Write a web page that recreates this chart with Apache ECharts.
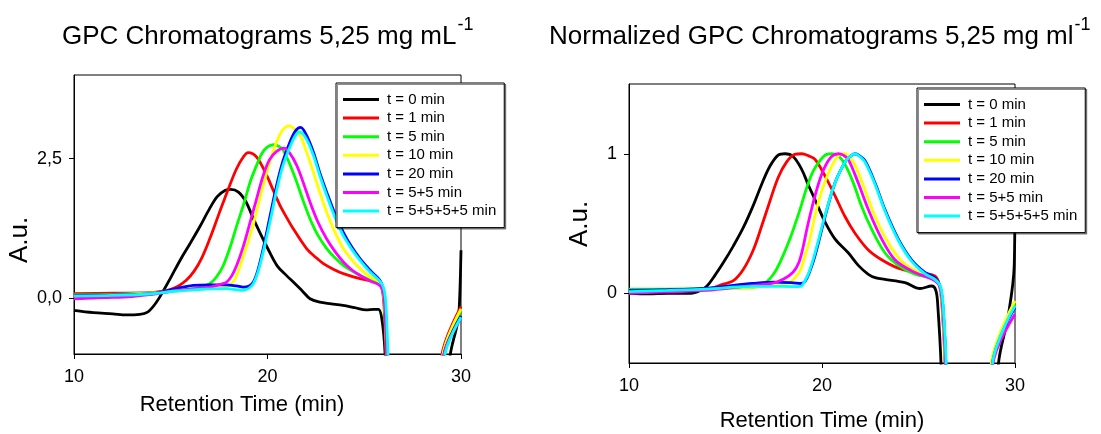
<!DOCTYPE html>
<html><head><meta charset="utf-8">
<script src="https://cdn.jsdelivr.net/npm/echarts@6/dist/echarts.min.js"></script>
<style>html,body{margin:0;padding:0;background:#fff}#c{width:1101px;height:434px}</style>
</head><body><div id="c"></div>
<script>
const seriesNames = ['t = 0 min','t = 1 min','t = 5 min','t = 10 min','t = 20 min','t = 5+5 min','t = 5+5+5+5 min'];
const seriesColors = ['#000000','#ff0000','#00ff00','#ffff00','#0000ff','#ff00ff','#00ffff'];
const xTickValues = [10, 20, 30];
const rawTickValues = [0, 2.5];
const normTickValues = [0, 1];
const titleLeft = 'GPC Chromatograms 5,25 mg mL';
const titleRight = 'Normalized GPC Chromatograms 5,25 mg ml';
const titleSup = '-1';
const xName = 'Retention Time (min)';
const yName = 'A.u.';

// Left panel: raw chromatograms [time, signal]
const raw0 = [[10,-0.22],[11,-0.26],[12,-0.28],[12.7,-0.30],[13.4,-0.29],[13.8,-0.25],[14.2,-0.1],[14.6,0.12],[15.0,0.37],[15.5,0.69],[16.0,0.98],[16.5,1.28],[17.0,1.60],[17.4,1.82],[17.8,1.93],[18.1,1.95],[18.5,1.90],[18.9,1.72],[19.2,1.48],[19.6,1.18],[20.0,0.90],[20.5,0.58],[21.0,0.40],[21.4,0.27],[21.8,0.13],[22.2,-0.01],[22.7,-0.07],[23.3,-0.10],[23.9,-0.13],[24.5,-0.17],[25.1,-0.21],[25.5,-0.20],[25.73,-0.20],[25.9,-0.35],[26.07,-0.95],[26.15,-2],[29.3,-2],[29.43,-1.05],[29.81,-0.46],[29.91,-0.16],[30,0.86]];
const raw1 = [[10,0.08],[12,0.09],[14,0.10],[14.5,0.12],[15.0,0.16],[15.4,0.22],[15.8,0.32],[16.2,0.48],[16.6,0.72],[17.0,1.05],[17.5,1.52],[18.0,1.98],[18.4,2.32],[18.75,2.53],[19.0,2.61],[19.44,2.53],[19.96,2.2],[20.3,1.93],[20.65,1.66],[21.0,1.44],[21.34,1.24],[22.02,0.89],[22.5,0.73],[22.89,0.62],[23.4,0.52],[23.92,0.44],[24.78,0.35],[25.4,0.31],[25.75,0.29],[25.92,0.16],[26.02,-0.12],[26.12,-1.05],[26.2,-2],[28.9,-2],[29.0,-1.05],[30,-0.15]];
const raw2 = [[10,0.06],[12,0.07],[14,0.09],[15,0.12],[16.2,0.17],[17.0,0.26],[17.4,0.40],[17.72,0.59],[18.1,0.95],[18.41,1.30],[18.8,1.72],[19.1,2.08],[19.4,2.35],[19.7,2.59],[20.0,2.71],[20.3,2.75],[20.6,2.72],[20.82,2.65],[21.2,2.36],[21.51,2.08],[21.85,1.74],[22.2,1.42],[22.6,1.13],[23.06,0.89],[23.5,0.72],[23.92,0.59],[24.4,0.48],[24.78,0.41],[25.3,0.33],[25.78,0.28],[25.95,0.15],[26.05,-0.15],[26.15,-1.05],[26.25,-2],[28.95,-2],[29.05,-1.05],[30,-0.22]];
const raw3 = [[10,0.04],[12,0.06],[14,0.09],[15,0.12],[17.0,0.17],[17.89,0.20],[18.2,0.28],[18.41,0.41],[18.75,0.75],[19.1,1.12],[19.45,1.57],[19.78,2.02],[20.1,2.42],[20.47,2.80],[20.8,3.02],[21.13,3.09],[21.4,3.03],[21.68,2.92],[22.0,2.64],[22.37,2.26],[22.7,1.90],[23.06,1.54],[23.5,1.17],[23.92,0.89],[24.35,0.69],[24.78,0.53],[25.3,0.38],[25.8,0.29],[25.97,0.15],[26.07,-0.15],[26.17,-1.05],[26.27,-2],[28.95,-2],[29.05,-1.05],[30,-0.19]];
const raw4 = [[10,0.05],[12,0.06],[14,0.08],[15,0.15],[16.17,0.23],[17.0,0.24],[17.89,0.24],[18.4,0.22],[18.75,0.20],[19.05,0.22],[19.27,0.29],[19.5,0.50],[19.78,0.89],[20.1,1.42],[20.47,2.02],[20.8,2.46],[21.16,2.80],[21.45,3.0],[21.71,3.06],[22.0,2.93],[22.37,2.62],[22.7,2.25],[23.06,1.90],[23.5,1.50],[23.92,1.18],[24.35,0.92],[24.78,0.71],[25.3,0.50],[25.81,0.32],[25.98,0.17],[26.08,-0.15],[26.18,-1.05],[26.28,-2],[29.0,-2],[29.1,-1.05],[30,-0.32]];
const raw5 = [[10,-0.01],[11.5,0.01],[13.0,0.03],[14.5,0.09],[15.3,0.14],[17.03,0.20],[17.6,0.25],[17.89,0.29],[18.15,0.40],[18.41,0.59],[18.75,0.93],[19.1,1.36],[19.45,1.80],[19.78,2.20],[20.1,2.48],[20.47,2.63],[20.85,2.69],[21.15,2.60],[21.51,2.38],[21.85,2.07],[22.2,1.72],[22.6,1.37],[23.06,1.06],[23.5,0.83],[23.92,0.65],[24.35,0.51],[24.78,0.41],[25.3,0.31],[25.8,0.23],[25.98,0.12],[26.08,-0.15],[26.18,-1.05],[26.28,-2],[29.0,-2],[29.1,-1.05],[30,-0.36]];
const raw6 = [[10,0.04],[12,0.05],[14,0.08],[15,0.12],[16.17,0.15],[17.89,0.17],[18.4,0.15],[18.75,0.14],[19.05,0.18],[19.27,0.26],[19.5,0.46],[19.78,0.83],[20.1,1.32],[20.47,1.93],[20.8,2.38],[21.16,2.71],[21.45,2.92],[21.65,2.98],[22.0,2.86],[22.37,2.56],[22.7,2.20],[23.06,1.84],[23.5,1.44],[23.92,1.12],[24.35,0.88],[24.78,0.68],[25.3,0.47],[25.85,0.29],[26.03,0.15],[26.13,-0.15],[26.23,-1.05],[26.33,-2],[29.05,-2],[29.15,-1.05],[30,-0.34]];

// Right panel: normalized chromatograms [time, signal]
const norm0 = [[10,0.0],[11,-0.005],[12,0.0],[13.2,0.0],[13.7,0.02],[14.03,0.05],[14.46,0.13],[14.89,0.22],[15.41,0.34],[15.92,0.47],[16.44,0.63],[16.87,0.78],[17.3,0.91],[17.73,0.99],[18.08,1.0],[18.5,0.98],[18.94,0.89],[19.28,0.78],[19.64,0.67],[20.16,0.51],[20.67,0.39],[21.36,0.29],[21.88,0.2],[22.4,0.136],[22.8,0.11],[23.26,0.1],[24.3,0.076],[25.08,0.034],[25.68,0.052],[25.9,0.02],[26.0,-0.09],[26.17,-0.52],[26.27,-1.2],[29.0,-1.2],[29.13,-0.52],[29.65,-0.16],[29.96,0.2],[30,0.8]];
const norm1 = [[10,0.02],[12,0.025],[14,0.03],[14.89,0.065],[15.41,0.09],[15.92,0.17],[16.44,0.31],[16.87,0.48],[17.3,0.66],[17.73,0.83],[18.16,0.94],[18.59,0.995],[18.95,1.0],[19.3,0.985],[19.64,0.96],[20.16,0.84],[20.67,0.70],[21.19,0.55],[21.71,0.43],[22.4,0.31],[23.09,0.24],[23.95,0.18],[24.82,0.15],[25.85,0.124],[26.08,0.06],[26.22,-0.09],[26.38,-0.52],[26.48,-1.2],[28.68,-1.2],[28.78,-0.52],[30,-0.08]];
const norm2 = [[10,0.03],[12,0.03],[14,0.035],[16.4,0.04],[17.1,0.08],[17.5,0.14],[17.82,0.22],[18.34,0.39],[18.86,0.60],[19.12,0.72],[19.4,0.83],[19.64,0.90],[20.16,0.99],[20.5,1.0],[21.02,0.96],[21.54,0.82],[22.06,0.62],[22.57,0.46],[23.26,0.29],[23.95,0.2],[24.82,0.136],[25.85,0.1],[26.1,0.05],[26.24,-0.09],[26.4,-0.52],[26.5,-1.2],[28.7,-1.2],[28.8,-0.52],[30,-0.08]];
const norm3 = [[10,0.01],[12,0.02],[14,0.03],[16,0.04],[17.8,0.06],[18.34,0.08],[18.86,0.16],[19.12,0.27],[19.36,0.38],[19.64,0.56],[20.0,0.74],[20.33,0.86],[20.65,0.95],[20.93,0.995],[21.19,1.0],[21.45,0.97],[21.71,0.92],[22.23,0.74],[22.75,0.55],[23.44,0.36],[24.13,0.23],[24.99,0.15],[25.85,0.105],[26.1,0.05],[26.24,-0.09],[26.4,-0.52],[26.5,-1.2],[28.66,-1.2],[28.76,-0.52],[30,-0.055]];
const norm4 = [[10,0.02],[12,0.025],[14,0.035],[15,0.05],[16.4,0.07],[17.5,0.08],[18.5,0.075],[18.9,0.07],[19.12,0.085],[19.35,0.15],[19.64,0.27],[20.16,0.55],[20.67,0.79],[21.19,0.94],[21.45,0.98],[21.71,1.0],[21.95,0.985],[22.23,0.95],[22.75,0.79],[23.26,0.60],[23.95,0.39],[24.64,0.24],[25.33,0.15],[25.85,0.11],[26.12,0.05],[26.26,-0.09],[26.42,-0.52],[26.52,-1.2],[28.72,-1.2],[28.82,-0.52],[30,-0.1]];
const norm5 = [[10,0.0],[12,0.01],[14,0.02],[16,0.05],[17.4,0.07],[17.99,0.10],[18.5,0.15],[18.8,0.22],[19.02,0.33],[19.2,0.45],[19.4,0.57],[19.64,0.70],[19.9,0.82],[20.16,0.91],[20.5,0.98],[20.85,1.0],[21.1,0.99],[21.36,0.96],[21.88,0.79],[22.4,0.60],[23.09,0.39],[23.78,0.24],[24.65,0.16],[25.85,0.09],[26.12,0.04],[26.26,-0.09],[26.42,-0.52],[26.52,-1.2],[28.75,-1.2],[28.85,-0.52],[30,-0.15]];
const norm6 = [[10,0.012],[12,0.02],[14,0.03],[16.4,0.05],[17.5,0.05],[18.5,0.048],[18.9,0.05],[19.12,0.09],[19.35,0.16],[19.64,0.29],[20.16,0.56],[20.67,0.79],[21.19,0.94],[21.45,0.98],[21.71,1.0],[21.95,0.98],[22.23,0.94],[22.75,0.78],[23.26,0.59],[23.95,0.38],[24.64,0.23],[25.33,0.14],[25.85,0.1],[26.14,0.05],[26.28,-0.09],[26.44,-0.52],[26.54,-1.2],[28.72,-1.2],[28.82,-0.52],[30,-0.09]];

const rawData = [raw0, raw1, raw2, raw3, raw4, raw5, raw6];
const normData = [norm0, norm1, norm2, norm3, norm4, norm5, norm6];

const FONT = '"Liberation Sans", Arial, Helvetica, sans-serif';
function measure(text, size) {
  const ctx = document.createElement('canvas').getContext('2d');
  ctx.font = size + 'px ' + FONT;
  return ctx.measureText(text).width;
}

const chart = echarts.init(document.getElementById('c'), null, {renderer: 'canvas'});

function makeSeries(dataList, axisIdx) {
  return dataList.map((d, i) => ({
    type: 'line', name: seriesNames[i], xAxisIndex: axisIdx, yAxisIndex: axisIdx,
    data: d, showSymbol: false, symbol: 'none', smooth: 0.35, clip: true,
    lineStyle: {color: seriesColors[i], width: 2.8},
    itemStyle: {color: seriesColors[i]},
    emphasis: {disabled: true}, animation: false
  }));
}

function xAxisCfg(idx) {
  return {
    gridIndex: idx, type: 'value', min: 10, max: 30, interval: 10,
    axisLine: {show: true, onZero: false, lineStyle: {color: '#000', width: 1}},
    axisTick: {show: true, inside: false, length: 5, lineStyle: {color: '#000', width: 1}, customValues: xTickValues},
    axisLabel: {show: true, color: '#000', fontSize: 18, fontFamily: FONT, margin: 14, customValues: xTickValues},
    splitLine: {show: false}
  };
}
function yAxisCfg(idx, mn, mx, ticks, fmt) {
  return {
    gridIndex: idx, type: 'value', min: mn, max: mx,
    axisLine: {show: true, onZero: false, lineStyle: {color: '#000', width: 1}},
    axisTick: {show: true, inside: false, length: 5, lineStyle: {color: '#000', width: 1}, customValues: ticks},
    axisLabel: {show: true, color: '#000', fontSize: 18, fontFamily: FONT, margin: 12, customValues: ticks, formatter: fmt},
    splitLine: {show: false}
  };
}

function legendCfg(left, top) {
  return {
    show: true, orient: 'vertical', left: left, top: top, data: seriesNames,
    icon: 'rect', itemWidth: 36, itemHeight: 3, itemGap: 3.6,
    padding: [9, 8, 9, 7], borderColor: '#000', borderWidth: 1, backgroundColor: '#fff',
    shadowColor: 'rgba(0,0,0,0.45)', shadowOffsetX: 1.5, shadowOffsetY: 1.5, shadowBlur: 0,
    selectedMode: false,
    textStyle: {color: '#000', fontSize: 15, fontFamily: FONT, lineHeight: 15, padding: [0, 0, 0, 3]}
  };
}

const wL = measure(titleLeft, 26);
const wR = measure(titleRight, 26);
const tLx = 62, tRx = 549;

const option = {
  animation: false,
  backgroundColor: '#fff',
  grid: [
    {left: 74, top: 75, width: 387, height: 279, show: true, borderColor: '#000', borderWidth: 1, backgroundColor: 'transparent'},
    {left: 629, top: 84, width: 386, height: 279, show: true, borderColor: '#000', borderWidth: 1, backgroundColor: 'transparent'}
  ],
  xAxis: [xAxisCfg(0), xAxisCfg(1)],
  yAxis: [
    yAxisCfg(0, -1, 4, rawTickValues, v => v.toFixed(1).replace('.', ',')),
    yAxisCfg(1, -0.5, 1.5, normTickValues, v => String(v))
  ],
  legend: [legendCfg(336, 83), legendCfg(917, 88)],
  series: makeSeries(rawData, 0).concat(makeSeries(normData, 1)),
  graphic: [
    {type: 'text', x: tLx, y: 37, style: {text: titleLeft, fontSize: 26, fontFamily: FONT, fill: '#000', align: 'left', verticalAlign: 'middle'}},
    {type: 'text', x: tLx + wL + 1, y: 25, style: {text: titleSup, fontSize: 18, fontFamily: FONT, fill: '#000', align: 'left', verticalAlign: 'middle'}},
    {type: 'text', x: tRx, y: 37, style: {text: titleRight, fontSize: 26, fontFamily: FONT, fill: '#000', align: 'left', verticalAlign: 'middle'}},
    {type: 'text', x: tRx + wR + 1, y: 25, style: {text: titleSup, fontSize: 18, fontFamily: FONT, fill: '#000', align: 'left', verticalAlign: 'middle'}},
    {type: 'text', x: 242, y: 405, style: {text: xName, fontSize: 22, fontFamily: FONT, fill: '#000', align: 'center', verticalAlign: 'middle'}},
    {type: 'text', x: 822, y: 421, style: {text: xName, fontSize: 22, fontFamily: FONT, fill: '#000', align: 'center', verticalAlign: 'middle'}},
    {type: 'text', x: 20, y: 240, rotation: Math.PI / 2, style: {text: yName, fontSize: 26, fontFamily: FONT, fill: '#000', align: 'center', verticalAlign: 'middle'}},
    {type: 'text', x: 580, y: 224, rotation: Math.PI / 2, style: {text: yName, fontSize: 26, fontFamily: FONT, fill: '#000', align: 'center', verticalAlign: 'middle'}}
  ]
};
chart.setOption(option);
</script>
</body></html>
